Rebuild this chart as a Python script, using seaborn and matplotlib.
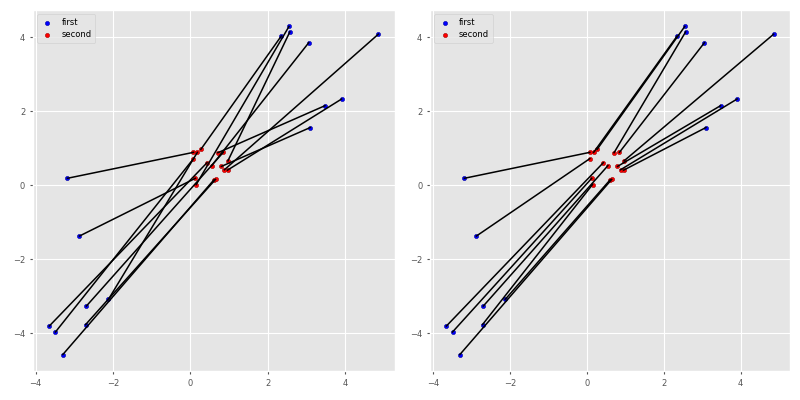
import matplotlib
matplotlib.use("Agg")
import matplotlib.pyplot as plt
import seaborn as sns

# "first" points (blue) and "second" points (red)
first_x = [-3.18, 2.35, 2.55, 2.57, 3.06, 4.86, 3.48, 3.91, 3.10, -2.87, -2.69, -3.65, -3.49, -2.71, -2.12, -3.30]
first_y = [0.19, 4.03, 4.29, 4.14, 3.85, 4.08, 2.15, 2.33, 1.56, -1.37, -3.26, -3.80, -3.96, -3.76, -3.08, -4.57]
second_x = [0.08, 0.18, 0.27, 0.08, 0.71, 0.85, 0.43, 0.55, 0.80, 0.97, 0.88, 0.96, 0.13, 0.15, 0.61, 0.65]
second_y = [0.89, 0.89, 0.97, 0.72, 0.88, 0.89, 0.61, 0.53, 0.51, 0.66, 0.42, 0.41, 0.19, 0.02, 0.15, 0.16]

# index of the "second" point each "first" point is joined to
left_pairs = [0, 2, 13, 9, 7, 10, 4, 11, 8, 12, 5, 6, 3, 15, 1, 14]
right_pairs = [0, 1, 2, 4, 5, 9, 8, 10, 11, 3, 7, 6, 12, 13, 14, 15]

plt.style.use("ggplot")
fig = plt.figure(figsize=(8, 4), dpi=100)
ax1 = fig.add_axes([0.041, 0.0725, 0.4525, 0.9025])
ax2 = fig.add_axes([0.5375, 0.0725, 0.45, 0.9025])

for ax, pairs in ((ax1, left_pairs), (ax2, right_pairs)):
    sns.scatterplot(x=first_x, y=first_y, color="blue", label="first", ax=ax,
                    s=9, edgecolor="#0000a0", linewidth=0.4, zorder=2)
    sns.scatterplot(x=second_x, y=second_y, color="red", label="second", ax=ax,
                    s=9, edgecolor="#a00000", linewidth=0.4, zorder=2)
    for i, j in enumerate(pairs):
        ax.plot([first_x[i], second_x[j]], [first_y[i], second_y[j]], color="black",
                lw=1.1, zorder=3)
    ax.tick_params(labelsize=6, colors="#555555", length=2)
    ax.legend(loc="upper left", fontsize=6, markerscale=1.0, handletextpad=0.9,
              borderpad=0.45, labelspacing=0.35, handlelength=1.6,
              facecolor="#E5E5E5", edgecolor="#cccccc")

fig.savefig("out.png", dpi=100)
